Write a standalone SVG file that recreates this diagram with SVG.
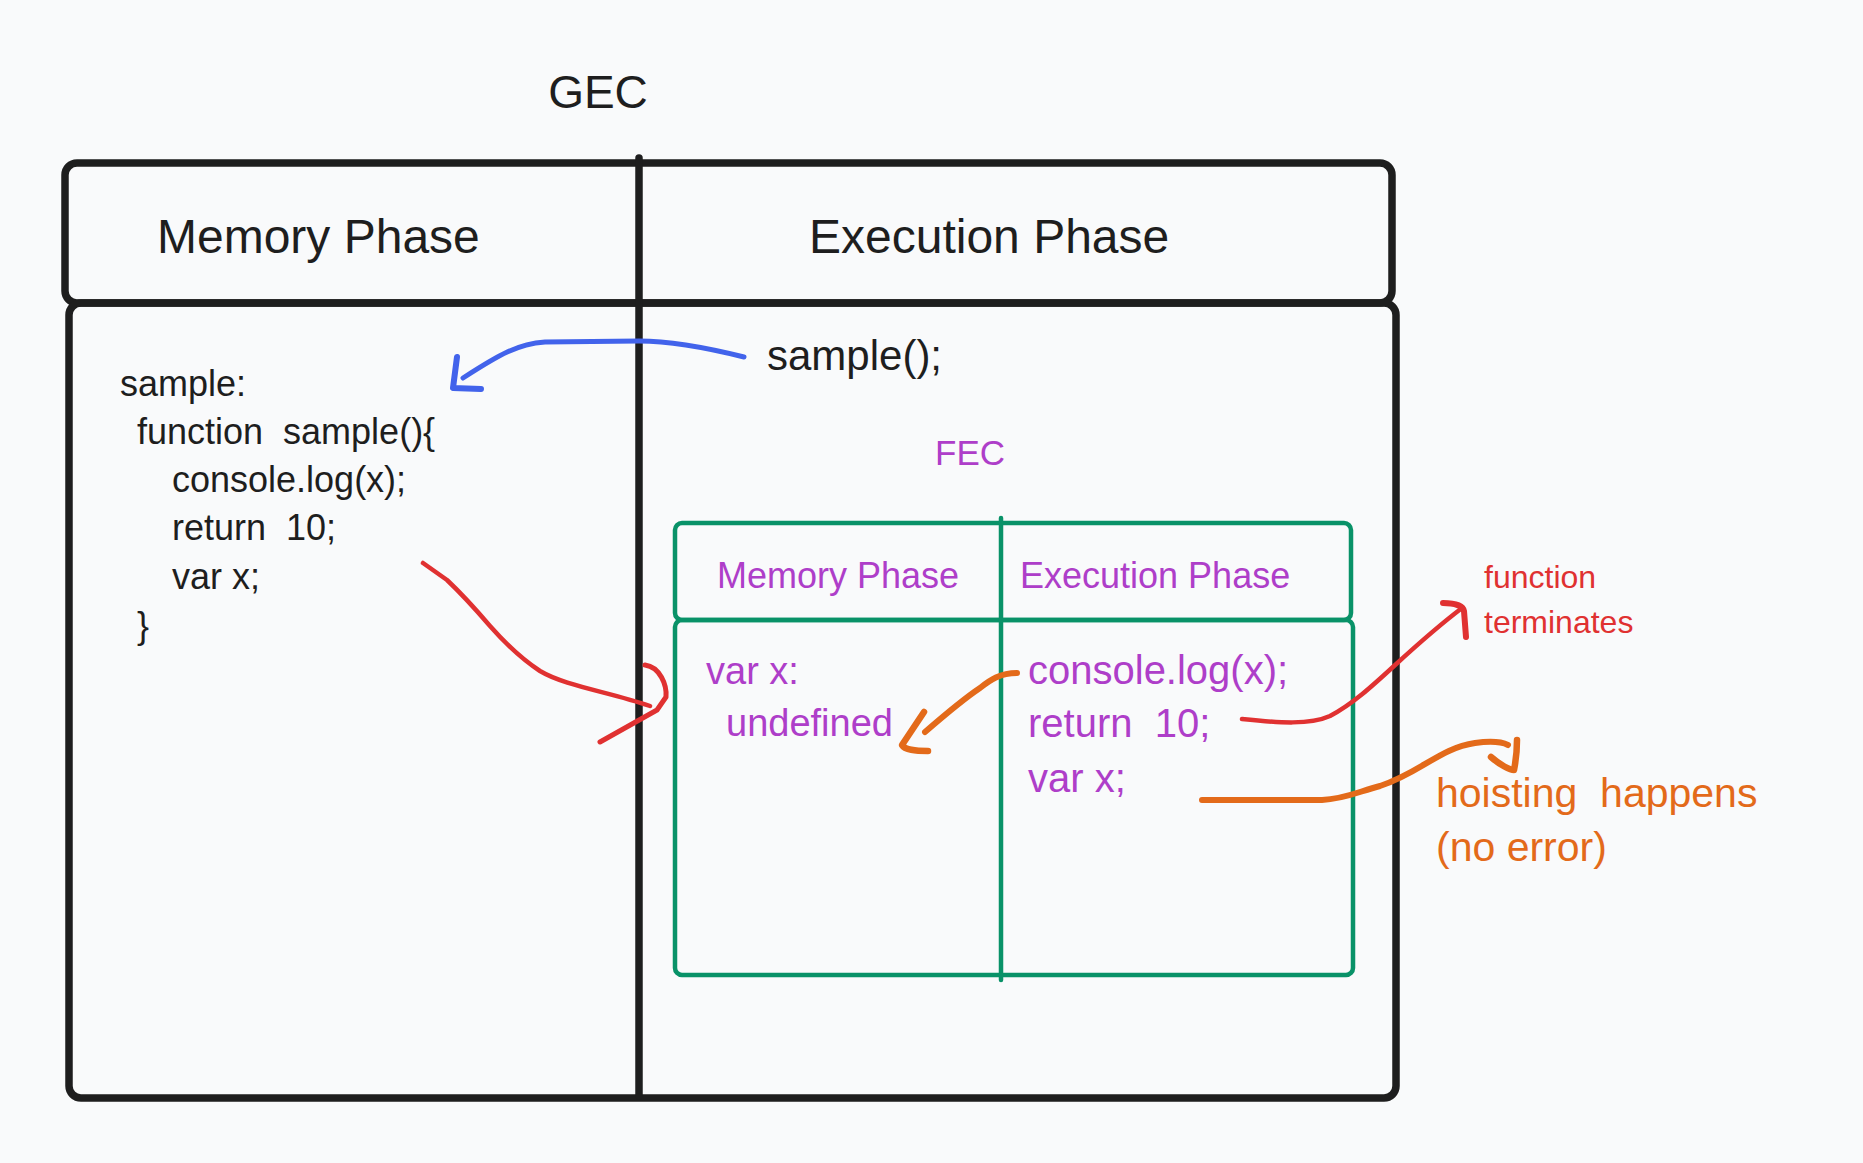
<svg xmlns="http://www.w3.org/2000/svg" width="1863" height="1163" viewBox="0 0 1863 1163">
<style>
  text { font-family: "Liberation Sans", Arial, sans-serif; }
  .dark { fill: #1e1e1e; }
  .purple { fill: #ae3ec9; }
  .red { fill: #e03131; }
  .orange { fill: #e36a1a; }
  .box { fill: none; stroke: #1e1e1e; stroke-width: 7.5; stroke-linejoin: round; stroke-linecap: round; }
  .gbox { fill: none; stroke: #099268; stroke-width: 4.5; stroke-linejoin: round; stroke-linecap: round; }
  .con { fill: none; stroke-linecap: round; stroke-linejoin: round; }
</style>
<rect x="0" y="0" width="1863" height="1163" fill="#f9fafb"/>

<g id="gec-title">
  <text x="598" y="108" font-size="46" class="dark" text-anchor="middle">GEC</text>
</g>

<g id="gec">
  <rect class="box" x="65" y="163" width="1327" height="140" rx="12"/>
  <rect class="box" x="69" y="303" width="1327" height="795" rx="12"/>
  <line class="box" x1="639" y1="158" x2="639" y2="1096" stroke-width="7"/>
  <text x="157" y="253" font-size="48" class="dark">Memory Phase</text>
  <text x="809" y="253" font-size="48" class="dark">Execution Phase</text>
</g>

<g id="gec-memory-code" font-size="36" class="dark">
  <text x="120" y="396" class="dark">sample:</text>
  <text x="137" y="444" class="dark" xml:space="preserve">function  sample(){</text>
  <text x="172" y="492" class="dark">console.log(x);</text>
  <text x="172" y="540" class="dark" xml:space="preserve">return  10;</text>
  <text x="172" y="589" class="dark">var x;</text>
  <text x="137" y="638" class="dark">}</text>
</g>

<g id="call">
  <text x="767" y="370" font-size="42" class="dark">sample();</text>
</g>

<g id="fec-title">
  <text x="935" y="465" font-size="35" class="purple">FEC</text>
</g>

<g id="fec">
  <rect class="gbox" x="675" y="523" width="676" height="97" rx="7"/>
  <rect class="gbox" x="675" y="620" width="678" height="355" rx="7"/>
  <line class="gbox" x1="1001" y1="518" x2="1001" y2="980"/>
  <text x="717" y="588" font-size="36" class="purple">Memory Phase</text>
  <text x="1020" y="588" font-size="36" class="purple">Execution Phase</text>
  <text x="706" y="684" font-size="38" class="purple">var x:</text>
  <text x="726" y="736" font-size="38" class="purple">undefined</text>
  <text x="1028" y="684" font-size="40" class="purple">console.log(x);</text>
  <text x="1028" y="737" font-size="40" class="purple" xml:space="preserve">return  10;</text>
  <text x="1028" y="792" font-size="40" class="purple">var x;</text>
</g>

<g id="note-terminates">
  <text x="1484" y="588" font-size="32" class="red">function</text>
  <text x="1484" y="633" font-size="32" class="red">terminates</text>
</g>

<g id="note-hoisting">
  <text x="1436" y="807" font-size="41" class="orange" xml:space="preserve">hoisting  happens</text>
  <text x="1436" y="861" font-size="41" class="orange">(no error)</text>
</g>

<g id="connectors">
  <!-- blue: sample() call to memory -->
  <path class="con" stroke="#4263eb" stroke-width="5" d="M 744 357 C 700 346, 665 341, 639 341 L 545 342 C 518 344, 500 354, 463 378"/>
  <path class="con" stroke="#4263eb" stroke-width="6" d="M 457 357 L 453 388 L 481 389"/>
  <!-- red: var x; to FEC memory -->
  <path class="con" stroke="#e03131" stroke-width="4.5" d="M 423 563 L 447 580 C 465 597, 478 612, 490 626 C 505 643, 520 658, 540 671 C 565 686, 610 692, 650 706"/>
  <path class="con" stroke="#e03131" stroke-width="5" d="M 645 665 C 660 667, 667 685, 666 697 L 657 710 L 600 742"/>
  <!-- red: return 10 to function terminates -->
  <path class="con" stroke="#e03131" stroke-width="4.5" d="M 1242 719 C 1280 723, 1310 725, 1330 716 C 1370 695, 1400 655, 1462 608"/>
  <path class="con" stroke="#e03131" stroke-width="6" d="M 1443 603 C 1455 603, 1463 606, 1464 611 L 1466 637"/>
  <!-- orange: console.log to undefined -->
  <path class="con" stroke="#e36a1a" stroke-width="6" d="M 1017 673 C 1000 673, 990 680, 980 688 C 965 698, 955 706, 925 732"/>
  <path class="con" stroke="#e36a1a" stroke-width="6.5" d="M 924 712 L 902 745 C 905 750, 915 751, 928 751"/>
  <!-- orange: var x to hoisting happens -->
  <path class="con" stroke="#e36a1a" stroke-width="6" d="M 1202 800 L 1322 800 C 1345 799, 1360 791, 1380 786 C 1420 773, 1440 748, 1475 743 C 1490 741, 1500 741, 1508 745"/>
  <path class="con" stroke="#e36a1a" stroke-width="6.5" d="M 1491 757 C 1500 765, 1510 770, 1514 770 C 1516 760, 1517 750, 1517 740"/>
</g>
</svg>
